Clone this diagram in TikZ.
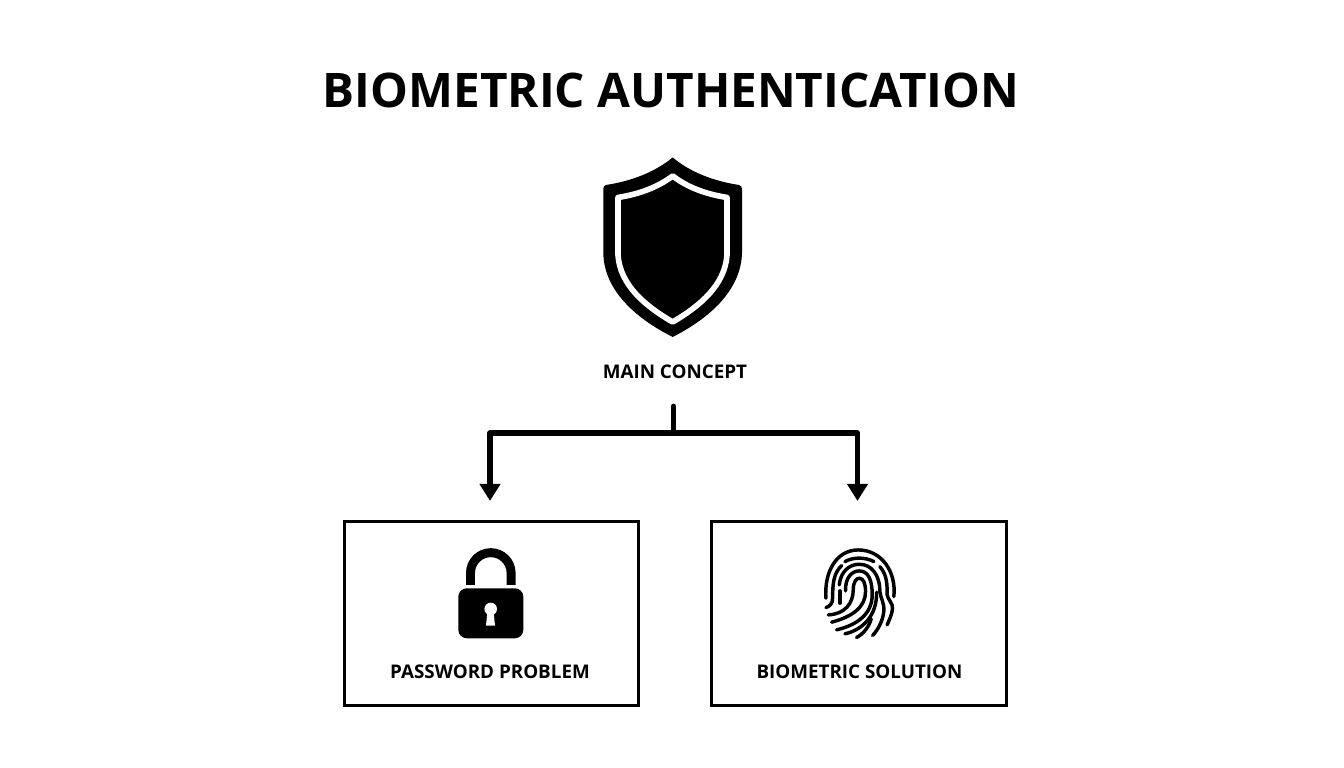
\documentclass[tikz,border=0pt]{standalone}
\usepackage{fontspec}
\setmainfont{Open Sans}
\usetikzlibrary{arrows.meta}
\tikzset{
	head/.style={font=\bfseries\fontsize{13.55}{16}\selectfont,inner sep=0pt},
	caption/.style={font=\bfseries\fontsize{5.35}{7}\selectfont,inner sep=0pt},
	panel/.style={draw,line width=0.85pt,minimum width=2.94cm,minimum height=1.84cm,inner sep=0pt},
	link/.style={line width=1.45pt,line cap=round,line join=round},
	linkarrow/.style={link,-{Triangle[length=0.17cm,width=0.2cm]}},
	ridge/.style={line width=0.98pt,line cap=round}
}
\begin{document}
\begin{tikzpicture}[x=0.01cm,y=-0.01cm]
	\useasboundingbox (0,0) rectangle (1344,768);
	\node[head] (title) at (671,90) {BIOMETRIC AUTHENTICATION};
	% shield
	\fill (672.7,157.5) .. controls (655,172) and (632,181) .. (606,185)
		.. controls (604,185.5) and (603.3,187) .. (603.3,189) -- (603.3,253)
		.. controls (604,290) and (635,318) .. (672.7,337)
		.. controls (710,318) and (741,290) .. (742,253) -- (742,189)
		.. controls (742,187) and (741,185.5) .. (739,185)
		.. controls (713,181) and (690,172) .. (672.7,157.5) -- cycle;
	\draw[white,line width=1.6pt,line join=round] (672.7,176) .. controls (658,187) and (640,194) .. (618,197.5) -- (618,255)
		.. controls (620,285) and (645,306) .. (672.7,322)
		.. controls (700,306) and (725,285) .. (727,255) -- (727,197.5)
		.. controls (705,194) and (687,187) .. (672.7,176) -- cycle;
	\node[caption] (concept) at (675,371.5) {MAIN CONCEPT};
	\node[panel] (password) at (491.5,613.5) {};
	\node[panel] (biometric) at (859,613.5) {};
	\node[caption] (passwordtext) at (490,671.5) {PASSWORD PROBLEM};
	\node[caption] (biometrictext) at (859.5,671.5) {BIOMETRIC SOLUTION};
	\coordinate (bus) at (673.5,433);
	\draw[link,shorten <=0.27cm] (concept.south -| bus) -- (bus);
	\draw[linkarrow,shorten >=0.19cm] (bus) -| ([xshift=-0.015cm]password.north);
	\draw[linkarrow,shorten >=0.19cm] (bus) -| ([xshift=-0.015cm]biometric.north);
	% lock
	\draw[line width=2.55pt] (470.5,585) -- (470.5,573) arc[start angle=180,end angle=360,radius=20.3] -- (511.1,585);
	\fill[rounded corners=2.4pt] (458.3,588.3) rectangle (523.3,638.3);
	\fill[white] (490.7,609) circle (6.3);
	\fill[white] (487.5,611) -- (486,625.7) -- (495,625.7) -- (493.5,611) -- cycle;
	% fingerprint
	\begin{scope}[shift={(800,535)},x=0.00333cm,y=-0.00333cm,ridge]
		\draw (78,190) .. controls (72,110) and (110,45) .. (175,45) .. controls (245,45) and (290,110) .. (282,185);
		\draw (135,80) .. controls (160,66) and (195,66) .. (222,80);
		\draw (125,92) .. controls (100,115) and (98,150) .. (98,190) .. controls (98,205) and (90,215) .. (78,218);
		\draw (240,95) .. controls (262,120) and (262,150) .. (262,180) .. controls (264,195) and (280,205) .. (278,222) .. controls (276,240) and (268,255) .. (262,270);
		\draw (118,150) .. controls (122,110) and (148,88) .. (178,88) .. controls (215,88) and (240,120) .. (240,170) .. controls (242,190) and (254,205) .. (252,228) .. controls (250,255) and (235,285) .. (218,302);
		\draw (120,168) -- (120,205);
		\draw (137,168) .. controls (135,130) and (155,108) .. (178,108) .. controls (205,108) and (217,135) .. (217,180) .. controls (217,235) and (175,270) .. (110,285);
		\draw (85,240) .. controls (135,238) and (160,205) .. (160,165) .. controls (160,140) and (170,130) .. (178,130) .. controls (190,130) and (197,145) .. (197,170) .. controls (197,215) and (160,245) .. (95,262);
		\draw (230,172) .. controls (232,240) and (190,285) .. (135,297);
		\draw (170,308) .. controls (190,298) and (208,275) .. (214,252);
	\end{scope}
\end{tikzpicture}
\end{document}
